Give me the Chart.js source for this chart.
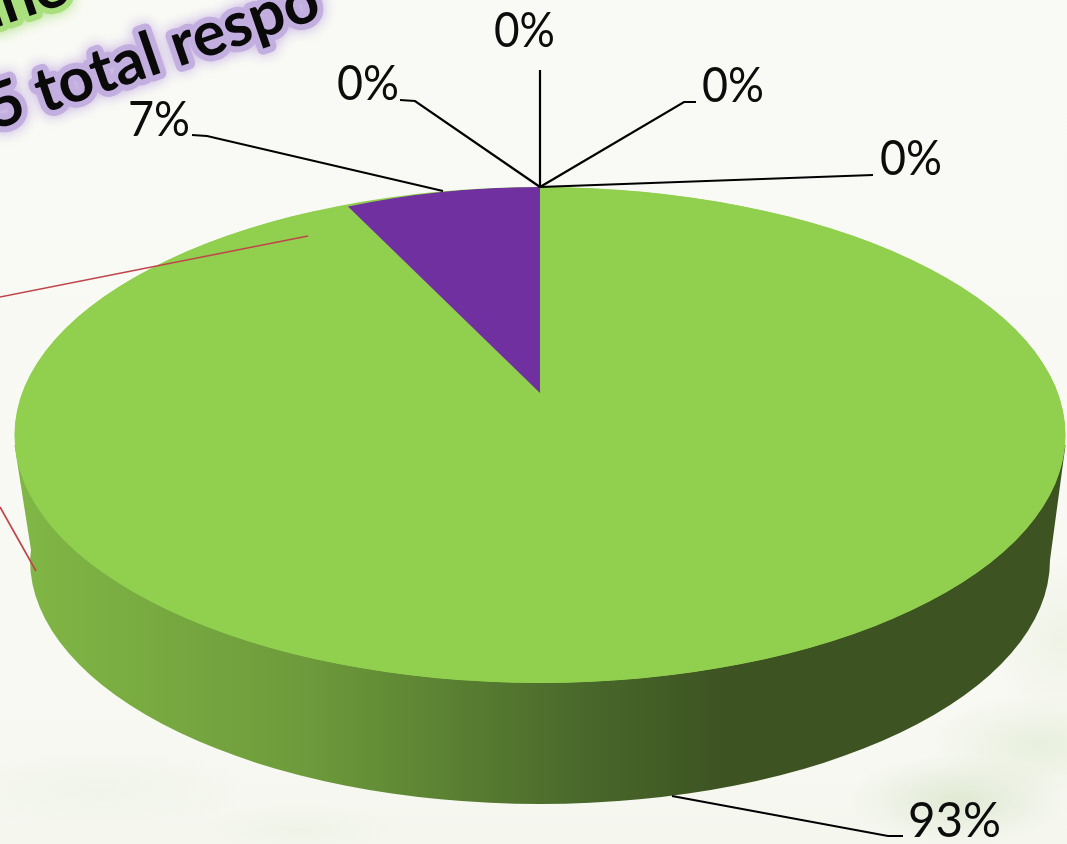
<!DOCTYPE html>
<html><head><meta charset="utf-8">
<style>
html,body{margin:0;padding:0;width:1067px;height:844px;overflow:hidden}
body{background:
 radial-gradient(ellipse 110px 45px at 960px 800px,#e0e9d4 0%,rgba(224,233,212,0) 100%),
 radial-gradient(ellipse 110px 50px at 1040px 745px,#e8efdd 0%,rgba(232,239,221,0) 100%),
 radial-gradient(ellipse 70px 90px at 1060px 640px,#eff3e6 0%,rgba(239,243,230,0) 100%),
 radial-gradient(ellipse 150px 40px at 100px 790px,#f0f4ea 0%,rgba(240,244,234,0) 100%),
 radial-gradient(ellipse 100px 25px at 300px 830px,#eff3e7 0%,rgba(239,243,231,0) 100%),
 linear-gradient(180deg,#f9faf5 0%,#f8f9f3 80%,#f5f7ef 100%);}
canvas{display:block}
</style>
<script src="https://cdn.jsdelivr.net/npm/chart.js@4/dist/chart.umd.min.js"></script>
</head><body>
<canvas id="c" width="1067" height="844"></canvas>
<script>
const categories = ['Response A','Response B','Response C','Response D','Response E','Response F'];
const percentValues = [93,7,0,0,0,0];
const sliceColors = ['#91d04f','#7030a0','#4f81bd','#c0504d','#f79646','#4bacc6'];

const topFace = {cx:540,cy:435,rx:525.5,ry:248};
const bottomFace = {cx:540,cy:560,rx:510,ry:244};
const sliceViews = [topFace,{cx:540,cy:393,rx:451,ry:206},topFace,topFace,topFace,topFace];
const leaders = [
 {pts:[[672,796],[888,836],[903,836]],tx:908,ty:837,w:93},
 {pts:[[443,191],[207,136],[192,135]],tx:128,ty:136,w:62},
 {pts:[[540,187],[873,175]],tx:880,ty:175,w:62},
 {pts:[[540,187],[684,102],[696,102]],tx:702,ty:102,w:62},
 {pts:[[540,187],[540,70]],tx:494,ty:47,w:61},
 {pts:[[540,187],[415,101],[400,100]],tx:337,ty:100,w:62}
];
const redLines = [[[0,297],[308,236]],[[0,507],[36,571]]];

class Pie3DController extends Chart.PieController {
  static id = 'pie3d';
  draw(){
    const ctx=this.chart.ctx, area=this.chart.chartArea;
    this.getMeta().data.forEach((arc,i)=>{
      const v=sliceViews[i];
      ctx.save();
      ctx.beginPath();
      ctx.ellipse(topFace.cx,topFace.cy,topFace.rx,topFace.ry,0,0,Math.PI*2);
      ctx.clip();
      ctx.translate(v.cx,v.cy);
      ctx.scale(v.rx/arc.outerRadius,v.ry/arc.outerRadius);
      ctx.translate(-arc.x,-arc.y);
      arc.draw(ctx,area);
      ctx.restore();
    });
  }
}
Chart.register(Pie3DController);

const solid = {
  id:'solid',
  beforeDatasetsDraw(chart){
    const ctx=chart.ctx,t=topFace,b=bottomFace;
    ctx.save();
    const g=ctx.createLinearGradient(30,0,730,0);
    g.addColorStop(0,'#80b645');
    g.addColorStop(.4,'#6d9a3b');
    g.addColorStop(.8,'#48672a');
    g.addColorStop(1,'#3d5322');
    ctx.fillStyle=g;
    ctx.beginPath();
    ctx.moveTo(t.cx-t.rx,t.cy+10);
    ctx.lineTo(b.cx-b.rx+1,b.cy-10);
    ctx.ellipse(b.cx,b.cy,b.rx,b.ry,0,Math.PI,0,true);
    ctx.lineTo(t.cx+t.rx,t.cy+10);
    ctx.closePath();
    ctx.fill();
    ctx.fillStyle=chart.data.datasets[0].backgroundColor[0];
    ctx.beginPath();
    ctx.ellipse(t.cx,t.cy,t.rx,t.ry,0,0,Math.PI*2);
    ctx.fill();
    ctx.restore();
  },
  afterDatasetsDraw(chart){
    const ctx=chart.ctx;
    ctx.save();
    ctx.lineWidth=1.6;
    ctx.strokeStyle='#c0454b';
    redLines.forEach(l=>{ctx.beginPath();ctx.moveTo(...l[0]);ctx.lineTo(...l[1]);ctx.stroke();});
    ctx.strokeStyle='#000';ctx.lineWidth=2.2;ctx.fillStyle='#0c0c0c';
    ctx.font='49px Lato';ctx.textBaseline='alphabetic';ctx.textAlign='left';
    leaders.forEach((l,i)=>{
      ctx.beginPath();ctx.moveTo(...l.pts[0]);
      l.pts.slice(1).forEach(p=>ctx.lineTo(...p));
      ctx.stroke();
      ctx.fillText(percentValues[i]+'%',l.tx,l.ty,l.w);
    });
    ctx.restore();
    ctx.save();
    ctx.font='bold 62px Lato';ctx.textBaseline='alphabetic';
    const titles=[['5 total respo',-5,130,'#c3aee0'],['ine',-8,29,'#a9df7c']];
    titles.forEach(([s,x,y,c])=>{
      ctx.save();ctx.translate(x,y);ctx.rotate(-19*Math.PI/180);
      ctx.shadowColor=c;ctx.shadowBlur=14;ctx.lineJoin='round';
      ctx.strokeStyle=c;ctx.lineWidth=12;ctx.strokeText(s,0,0);
      ctx.shadowBlur=0;ctx.fillStyle='#0a0a0a';ctx.fillText(s,0,0);
      ctx.restore();
    });
    ctx.restore();
  }
};

new Chart(document.getElementById('c'),{
  type:'pie3d',
  data:{labels:categories,datasets:[{data:percentValues,backgroundColor:sliceColors,borderWidth:0}]},
  options:{responsive:false,animation:false,layout:{padding:0},
    rotation:0,
    plugins:{legend:{display:false},tooltip:{enabled:false}}},
  plugins:[solid]
});
</script>
</body></html>
